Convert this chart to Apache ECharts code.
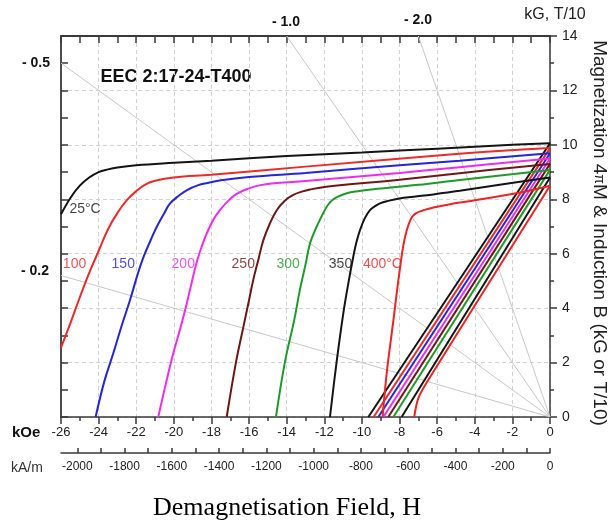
<!DOCTYPE html>
<html><head><meta charset="utf-8">
<script src="https://cdn.jsdelivr.net/npm/echarts@6/dist/echarts.min.js"></script>
<style>html,body{margin:0;padding:0;background:#fff}#c{width:615px;height:523px}</style>
</head><body><div id="c"></div>
<script>
// ---------- DATA ----------
// Intrinsic (4piM) demagnetisation curves, H in kOe, value in kG
const j25H  = [-26, -25.5, -25, -24.5, -24, -23.5, -23, -22, -20, -18, -14, -10, -6, -2, 0];
const j25B  = [7.45, 8.05, 8.5, 8.8, 9.0, 9.1, 9.17, 9.25, 9.34, 9.42, 9.59, 9.72, 9.86, 10.0, 10.06];
const j100H = [-26, -25.5, -25, -24.5, -24, -23.5, -23, -22.5, -22, -21.5, -21, -20, -18, -13, -5, 0];
const j100B = [2.55, 3.45, 4.4, 5.3, 6.1, 6.9, 7.5, 7.97, 8.3, 8.55, 8.68, 8.8, 8.9, 9.2, 9.66, 9.88];
const j150H = [-24.16, -23.7, -23.22, -22.8, -22.33, -21.9, -21.6, -21.2, -20.9, -20.5, -20.2, -19.7, -19.3, -18.7, -18.2, -17.5, -16, -13, -8, -4.8, 0];
const j150B = [0, 1.3, 2.34, 3.3, 4.3, 5.3, 5.9, 6.55, 7.0, 7.5, 7.85, 8.15, 8.34, 8.52, 8.6, 8.7, 8.82, 8.97, 9.25, 9.42, 9.69];
const j200H = [-20.83, -20.4, -20.03, -19.7, -19.4, -19.1, -18.8, -18.5, -18.25, -17.9, -17.55, -17.1, -16.66, -16.0, -15.4, -14.5, -13, -8, -4.8, 0];
const j200B = [0, 1.3, 2.34, 3.15, 3.93, 4.8, 5.65, 6.3, 6.75, 7.25, 7.6, 7.95, 8.2, 8.4, 8.52, 8.6, 8.67, 8.97, 9.18, 9.5];
const j250H = [-17.19, -16.7, -16.3, -16.0, -15.78, -15.5, -15.24, -14.9, -14.53, -14.1, -13.65, -13.2, -12.76, -11.9, -8, -4.8, 0];
const j250B = [0, 2.0, 3.32, 4.3, 5.03, 5.8, 6.5, 7.1, 7.6, 7.95, 8.16, 8.28, 8.36, 8.46, 8.72, 8.96, 9.3];
const j300H = [-14.57, -14.1, -13.6, -13.3, -13.0, -12.76, -12.5, -12.3, -12.06, -11.8, -11.52, -11.2, -10.8, -10.3, -9.75, -7, -4.8, 0];
const j300B = [0, 2.0, 3.56, 4.67, 5.6, 6.38, 6.85, 7.15, 7.49, 7.8, 8.0, 8.12, 8.22, 8.29, 8.34, 8.53, 8.71, 9.08];
const j350H = [-11.7, -11.35, -10.99, -10.7, -10.46, -10.3, -10.1, -9.85, -9.57, -9.3, -9.04, -8.68, -8.0, -6.2, -4.8, -2.5, 0];
const j350B = [0, 2.0, 3.81, 5.0, 5.89, 6.4, 6.87, 7.3, 7.6, 7.75, 7.85, 7.93, 8.03, 8.18, 8.31, 8.55, 8.8];
const j400H = [-8.9, -8.7, -8.51, -8.3, -8.15, -7.98, -7.8, -7.62, -7.45, -7.3, -7.09, -6.8, -6.5, -6.2, -5.3, -4.4, -1.8, 0];
const j400B = [0, 1.5, 2.58, 3.7, 4.55, 5.45, 6.3, 6.85, 7.2, 7.38, 7.5, 7.58, 7.64, 7.7, 7.82, 7.92, 8.22, 8.5];

// Normal (B) demagnetisation lines
const b25H  = [-9.66, 0];          const b25B  = [0, 10.06];
const b100H = [-9.38, 0];          const b100B = [0, 9.88];
const b150H = [-9.13, 0];          const b150B = [0, 9.69];
const b200H = [-8.86, 0];          const b200B = [0, 9.5];
const b250H = [-8.6, 0];           const b250B = [0, 9.3];
const b300H = [-8.33, 0];          const b300B = [0, 9.08];
const b350H = [-7.89, 0];          const b350B = [0, 8.8];
const b400H = [-7.22, -7.0, -6.5, 0]; const b400B = [0, 0.69, 1.33, 8.5];

// Permeance (load) lines through the origin
const load02H = [-26, 0]; const load02B = [5.2, 0];
const load05H = [-26, 0]; const load05B = [13, 0];
const load10H = [-14, 0]; const load10B = [14, 0];
const load20H = [-7, 0];  const load20B = [14, 0];
const loadNames = ['- 0.2', '- 0.5', '- 1.0', '- 2.0'];

// Curve labels
const tempLabels = ['25°C', '100', '150', '200', '250', '300', '350', '400°C'];
const tempLabelH = [-24.72, -25.28, -22.69, -19.5, -16.31, -13.92, -11.14, -8.91];
const tempLabelB = [7.64, 5.62, 5.62, 5.62, 5.62, 5.62, 5.62, 5.62];

// Secondary axis (kA/m)
const kamTicks  = [-2000,-1900,-1800,-1700,-1600,-1500,-1400,-1300,-1200,-1100,-1000,-900,-800,-700,-600,-500,-400,-300,-200,-100,0];
const kamLabels = [-2000,-1800,-1600,-1400,-1200,-1000,-800,-600,-400,-200,0];
const kamMin = -2069;

const chartTitle = 'EEC 2:17-24-T400';
const xTitle = 'Demagnetisation Field, H';

// ---------- STYLE ----------
const palette = ['#141414', '#ec2a2a', '#2424d8', '#ee2cee', '#6e1616', '#1e9a2a', '#141414', '#ee2323'];
const FONT = '"Liberation Sans", Arial, sans-serif';
const AX = '#3a3a3a';

const zip = (a, b) => a.map((v, i) => [v, b[i]]);
const jSets = [[j25H,j25B],[j100H,j100B],[j150H,j150B],[j200H,j200B],[j250H,j250B],[j300H,j300B],[j350H,j350B],[j400H,j400B]];
const bSets = [[b25H,b25B],[b100H,b100B],[b150H,b150B],[b200H,b200B],[b250H,b250B],[b300H,b300B],[b350H,b350B],[b400H,b400B]];
const loadSets = [[load02H,load02B],[load05H,load05B],[load10H,load10B],[load20H,load20B]];

const series = [];
loadSets.forEach((s, i) => series.push({
  name: loadNames[i], type: 'line', data: zip(s[0], s[1]), symbol: 'none', silent: true,
  lineStyle: { color: '#c8c8c8', width: 1 }, z: 1
}));
bSets.forEach((s, i) => series.push({
  name: 'B ' + tempLabels[i], type: 'line', data: zip(s[0], s[1]), symbol: 'none',
  smooth: 0.3, lineStyle: { color: palette[i], width: 2 }, z: 3
}));
jSets.forEach((s, i) => series.push({
  name: 'J ' + tempLabels[i], type: 'line', data: zip(s[0], s[1]), symbol: 'none',
  smooth: 0.4, lineStyle: { color: palette[i], width: 2 }, z: 4
}));
series.push({
  type: 'scatter', symbolSize: 0, silent: true, z: 5,
  data: tempLabels.map((t, i) => ({
    value: [tempLabelH[i], tempLabelB[i]],
    label: { show: true, position: 'inside', formatter: t, color: palette[i], fontSize: 14, fontFamily: FONT }
  }))
});

const option = {
  animation: false,
  backgroundColor: '#ffffff',
  grid: { left: 61, right: 65, top: 36, bottom: 106, containLabel: false },
  xAxis: [
    { type: 'value', position: 'bottom', min: -26, max: 0, interval: 2,
      axisLine: { show: true, onZero: false, lineStyle: { color: AX, width: 1.5 } },
      axisTick: { show: true, inside: false, length: 7, lineStyle: { color: AX, width: 1.5 } },
      minorTick: { show: true, splitNumber: 2, length: 4, lineStyle: { color: AX, width: 1.5 } },
      axisLabel: { show: true, margin: 9, fontSize: 13, color: '#222', fontFamily: FONT, formatter: v => String(v) },
      splitLine: { show: true, lineStyle: { color: '#d2d2d2', type: [4, 3], width: 1 } } },
    { type: 'value', position: 'top', min: -26, max: 0, interval: 1,
      axisLine: { show: true, onZero: false, lineStyle: { color: AX, width: 1.8 } },
      axisTick: { show: true, inside: true, length: 7, lineStyle: { color: AX, width: 1.5 } },
      axisLabel: { show: false }, splitLine: { show: false } },
    { type: 'value', position: 'bottom', offset: 36, min: kamMin, max: 0,
      axisLine: { show: true, onZero: false, lineStyle: { color: AX, width: 1.5 } },
      axisTick: { show: true, inside: true, length: 5, customValues: kamTicks, lineStyle: { color: AX, width: 1.5 } },
      axisLabel: { show: true, customValues: kamLabels, margin: 8, fontSize: 12, color: '#222', fontFamily: FONT, formatter: v => String(v) },
      splitLine: { show: false } }
  ],
  yAxis: [
    { type: 'value', position: 'right', min: 0, max: 14, interval: 2,
      axisLine: { show: true, onZero: false, lineStyle: { color: AX, width: 1.5 } },
      axisTick: { show: true, inside: false, length: 7, lineStyle: { color: AX, width: 1.5 } },
      minorTick: { show: true, splitNumber: 2, length: 4, lineStyle: { color: AX, width: 1.5 } },
      axisLabel: { show: true, margin: 12, fontSize: 14, color: '#222', fontFamily: FONT },
      splitLine: { show: true, lineStyle: { color: '#d2d2d2', type: [4, 3], width: 1 } } },
    { type: 'value', position: 'left', min: 0, max: 14, interval: 1,
      axisLine: { show: true, onZero: false, lineStyle: { color: AX, width: 1.8 } },
      axisTick: { show: true, inside: true, length: 7, lineStyle: { color: AX, width: 1.5 } },
      axisLabel: { show: false }, splitLine: { show: false } }
  ],
  series: series,
  graphic: [
    { type: 'text', x: 176, y: 77, style: { text: chartTitle, fill: '#111', font: 'bold 18px ' + FONT, align: 'center', verticalAlign: 'middle' } },
    { type: 'text', x: 36, y: 63, style: { text: loadNames[1], fill: '#111', font: 'bold 14px ' + FONT, align: 'center', verticalAlign: 'middle' } },
    { type: 'text', x: 35, y: 271, style: { text: loadNames[0], fill: '#111', font: 'bold 14px ' + FONT, align: 'center', verticalAlign: 'middle' } },
    { type: 'text', x: 286, y: 22, style: { text: loadNames[2], fill: '#111', font: 'bold 14px ' + FONT, align: 'center', verticalAlign: 'middle' } },
    { type: 'text', x: 418, y: 20, style: { text: loadNames[3], fill: '#111', font: 'bold 14px ' + FONT, align: 'center', verticalAlign: 'middle' } },
    { type: 'text', x: 555, y: 15, style: { text: 'kG, T/10', fill: '#222', font: '16px ' + FONT, align: 'center', verticalAlign: 'middle' } },
    { type: 'text', x: 12, y: 433, style: { text: 'kOe', fill: '#111', font: 'bold 15px ' + FONT, align: 'left', verticalAlign: 'middle' } },
    { type: 'text', x: 11, y: 468, style: { text: 'kA/m', fill: '#333', font: '14px ' + FONT, align: 'left', verticalAlign: 'middle' } },
    { type: 'text', x: 287, y: 508, style: { text: xTitle, fill: '#000', font: '26px "Liberation Serif", "Times New Roman", serif', align: 'center', verticalAlign: 'middle' } },
    { type: 'text', x: 599, y: 233, rotation: -Math.PI / 2,
      style: { text: '{a|Magnetization 4}{b|π}{a|M & Induction B (kG or T/10)}', align: 'center', verticalAlign: 'middle',
        rich: { a: { fontSize: 19, fontFamily: FONT, fill: '#222', color: '#222' }, b: { fontSize: 14, fontFamily: FONT, fill: '#222', color: '#222' } } } }
  ]
};

const chart = echarts.init(document.getElementById('c'), null, { renderer: 'canvas' });
chart.setOption(option);
</script></body></html>
